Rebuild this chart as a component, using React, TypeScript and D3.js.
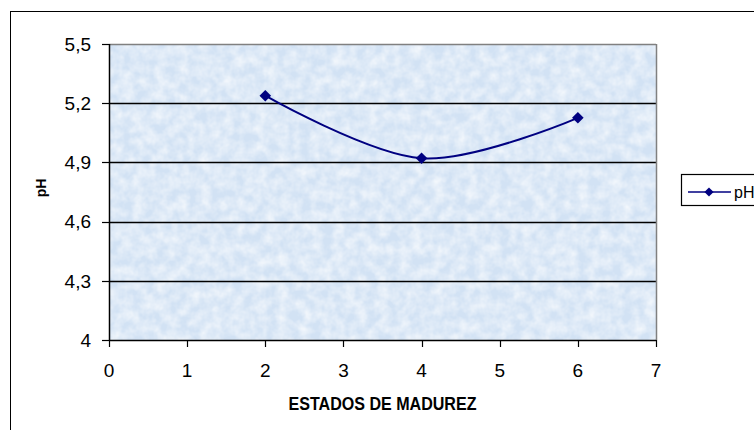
import React from "react";
import * as d3 from "d3";

const xValues = [2, 4, 6];
const phValues = [5.238, 4.921, 5.126];
const xTicks = [0, 1, 2, 3, 4, 5, 6, 7];
const yTicks = [4, 4.3, 4.6, 4.9, 5.2, 5.5];
const seriesName = "pH";
const xTitle = "ESTADOS DE MADUREZ";
const yTitle = "pH";

const W = 754;
const H = 430;
const FONT = "'Liberation Sans', Arial, sans-serif";

export default function App() {
  const x = d3.scaleLinear().domain([0, 7]).range([109, 656]);
  const y = d3.scaleLinear().domain([4, 5.5]).range([340, 44]);
  const pts = xValues.map((v, i) => [x(v), y(phValues[i])] as [number, number]);
  const line = d3.line().curve(d3.curveCatmullRom.alpha(0))(pts) || "";
  const diamond = (cx: number, cy: number, r = 5.8) =>
    `M${cx},${cy - r}L${cx + r},${cy}L${cx},${cy + r}L${cx - r},${cy}Z`;
  const fmt = (v: number) => (Number.isInteger(v) ? String(v) : v.toFixed(1).replace(".", ","));

  return (
    <svg
      width={W}
      height={H}
      style={{ position: "absolute", left: 0, top: 0, background: "#fff" }}
      fontFamily={FONT}
    >
      <defs>
        <filter id="tex" x="0" y="0" width="100%" height="100%">
          <feTurbulence type="fractalNoise" baseFrequency="0.09" numOctaves="3" seed="7" result="n" />
          <feColorMatrix
            in="n"
            type="matrix"
            values="0 0 0 0 1  0 0 0 0 1  0 0 0 0 1  0 0 0 1.1 -0.3"
          />
        </filter>
      </defs>
      {/* outer chart border */}
      <rect x={10.5} y={11.5} width={800} height={500} fill="#fff" stroke="#000" strokeWidth={1} />
      {/* plot area */}
      <rect x={x(0)} y={y(5.5)} width={x(7) - x(0)} height={y(4) - y(5.5)} fill="#d2e2f4" />
      <rect
        x={x(0)}
        y={y(5.5)}
        width={x(7) - x(0)}
        height={y(4) - y(5.5)}
        fill="#fff"
        filter="url(#tex)"
      />
      {/* grid lines */}
      {yTicks
        .filter((t) => t > 4 && t < 5.5)
        .map((t) => (
          <line key={t} x1={x(0)} x2={x(7)} y1={Math.round(y(t)) + 0.5} y2={Math.round(y(t)) + 0.5} stroke="#000" strokeWidth={1.3} />
        ))}
      {/* plot border top/right */}
      <line x1={x(0)} x2={x(7)} y1={y(5.5) + 0.5} y2={y(5.5) + 0.5} stroke="#808080" strokeWidth={1.5} />
      <line x1={x(7) + 0.5} x2={x(7) + 0.5} y1={y(5.5)} y2={y(4)} stroke="#808080" strokeWidth={1.5} />
      {/* axes */}
      <line x1={x(0) + 0.5} x2={x(0) + 0.5} y1={y(5.5)} y2={y(4)} stroke="#000" strokeWidth={1.5} />
      <line x1={x(0)} x2={x(7)} y1={y(4) + 0.5} y2={y(4) + 0.5} stroke="#000" strokeWidth={1.5} />
      {yTicks.map((t) => (
        <g key={t}>
          <line x1={x(0) - 7} x2={x(0)} y1={Math.round(y(t)) + 0.5} y2={Math.round(y(t)) + 0.5} stroke="#000" strokeWidth={1.2} />
          <text x={x(0) - 18} y={y(t)} dy="0.36em" textAnchor="end" fontSize={19} fill="#000">
            {fmt(t)}
          </text>
        </g>
      ))}
      {xTicks.map((t) => (
        <g key={t}>
          <line x1={Math.round(x(t)) + 0.5} x2={Math.round(x(t)) + 0.5} y1={y(4)} y2={y(4) + 7} stroke="#000" strokeWidth={1.2} />
          <text x={x(t)} y={377} textAnchor="middle" fontSize={19} fill="#000">
            {t}
          </text>
        </g>
      ))}
      {/* axis titles */}
      <text
        x={(x(0) + x(7)) / 2}
        y={410}
        textAnchor="middle"
        fontSize={18}
        fontWeight="bold"
        textLength={188}
        lengthAdjust="spacingAndGlyphs"
      >
        {xTitle}
      </text>
      <text
        transform="translate(46,188) rotate(-90)"
        textAnchor="middle"
        fontSize={14}
        fontWeight="bold"
      >
        {yTitle}
      </text>
      {/* series */}
      <path d={line} fill="none" stroke="#000080" strokeWidth={2} />
      {pts.map((p, i) => (
        <path key={i} d={diamond(p[0], p[1])} fill="#000080" />
      ))}
      {/* legend */}
      <rect x={681.5} y={174.5} width={100} height={31} fill="#fff" stroke="#000" strokeWidth={1.2} />
      <line x1={688} x2={731} y1={192} y2={192} stroke="#000080" strokeWidth={1.6} />
      <path d={diamond(709, 192, 4.6)} fill="#000080" />
      <text x={734} y={197.5} fontSize={16} fill="#000">
        {seriesName}
      </text>
    </svg>
  );
}
